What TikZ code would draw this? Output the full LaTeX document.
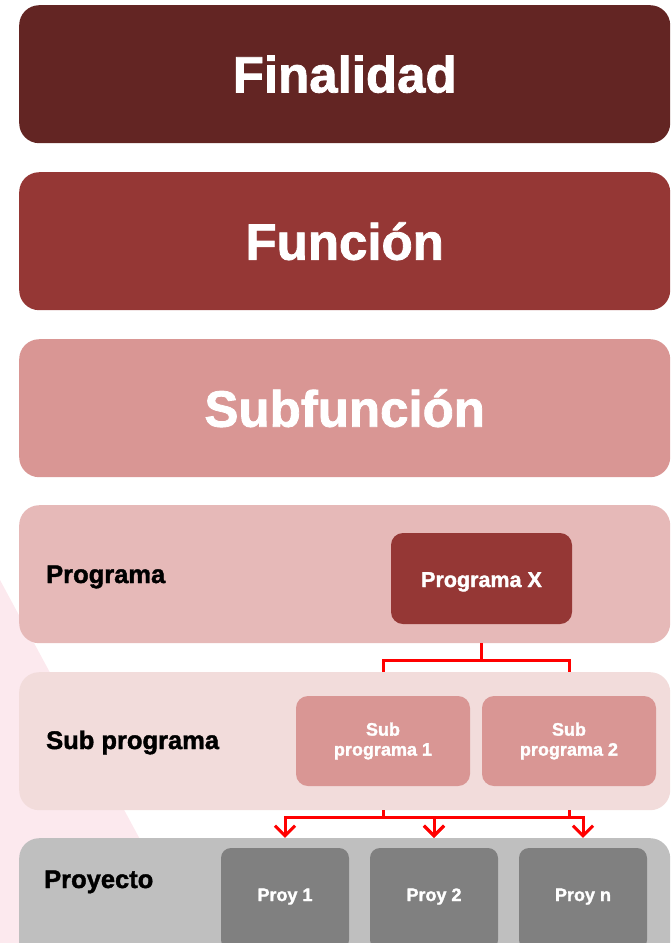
\documentclass[tikz,border=0pt]{standalone}
\usepackage{fontspec}
\setmainfont{Liberation Sans}[BoldFeatures={FakeBold=1.6}]
\usetikzlibrary{arrows.meta}
\definecolor{finalidad}{HTML}{632523}
\definecolor{funcion}{HTML}{953735}
\definecolor{subfuncion}{HTML}{D99694}
\definecolor{programa}{HTML}{E6B9B8}
\definecolor{subprograma}{HTML}{F2DCDB}
\definecolor{proyecto}{HTML}{BFBFBF}
\definecolor{proy}{HTML}{808080}
\definecolor{fondo}{HTML}{FCE9EE}

\begin{document}
\begin{tikzpicture}[x=1pt, y=-1pt, band/.style={rectangle, rounded corners=20pt, minimum width=651pt, minimum height=138pt, inner sep=0pt, anchor=north west}, head/.style={band, text=white, font=\bfseries\fontsize{51}{60}\selectfont}, lbl/.style={anchor=base west, inner sep=0pt, font=\bfseries\fontsize{25.5}{28}\selectfont}, box/.style={rectangle, rounded corners=12pt, inner sep=0pt, text=white, align=center, font=\bfseries\fontsize{18}{20}\selectfont}, tree/.style={draw=red, line width=3pt}, arr/.style={tree, -{Straight Barb[length=10pt, width=20pt]}, shorten <=24pt, shorten >=10pt}]
            % background
            \clip (0,0) rectangle (670,943);
            \fill[fondo] (0,580) -- (196,943) -- (0,943) -- cycle;
            % bands
            \node[head, fill=finalidad] (fin) at (19,5) {Finalidad};
            \node[head, fill=funcion] (fun) at (19,172) {Función};
            \node[head, fill=subfuncion] (subf) at (19,339) {Subfunción};
            \node[band, fill=programa] (prog) at (19,505) {};
            \node[band, fill=subprograma] (subp) at (19,672) {};
            \node[band, fill=proyecto] (proyb) at (19,838) {};
            \node[lbl] (lprog) at (46,583) {Programa};
            \node[lbl] (lsubp) at (46,749) {Sub programa};
            \node[lbl] (lproy) at (44,888) {Proyecto};
            % boxes
            \node[box, fill=funcion, minimum width=181pt, minimum height=91pt, text height=17pt, text depth=0pt, font=\bfseries\fontsize{21.5}{24}\selectfont] (px) at (481.5,578.5) {Programa X};
            \node[box, fill=subfuncion, minimum width=174pt, minimum height=90pt] (sp1) at (383,741) {Sub\\programa 1};
            \node[box, fill=subfuncion, minimum width=174pt, minimum height=90pt] (sp2) at (569,741) {Sub\\programa 2};
            \node[box, fill=proy, minimum width=128pt, minimum height=102pt, rounded corners=10pt, text height=13pt, text depth=9pt] (pr1) at (285,899) {Proy 1};
            \node[box, fill=proy, minimum width=128pt, minimum height=102pt, rounded corners=10pt, text height=13pt, text depth=9pt] (pr2) at (434,899) {Proy 2};
            \node[box, fill=proy, minimum width=128pt, minimum height=102pt, rounded corners=10pt, text height=13pt, text depth=9pt] (prn) at (583,899) {Proy n};
            % edges
            \draw[tree, shorten <=19pt, shorten >=24pt] (px.south) -- ++(0,36) -| (sp1.north);
            \draw[tree, shorten <=19pt, shorten >=24pt] (px.south) -- ++(0,36) -| (sp2.north);
            \draw[arr] (sp1.south) -- ++(0,31) -| (pr1.north);
            \draw[arr] (sp1.south) -- ++(0,31) -| (pr2.north);
            \draw[arr] (sp2.south) -- ++(0,31) -| (pr2.north);
            \draw[arr] (sp2.south) -- ++(0,31) -| (prn.north);
        \end{tikzpicture}
\end{document}
